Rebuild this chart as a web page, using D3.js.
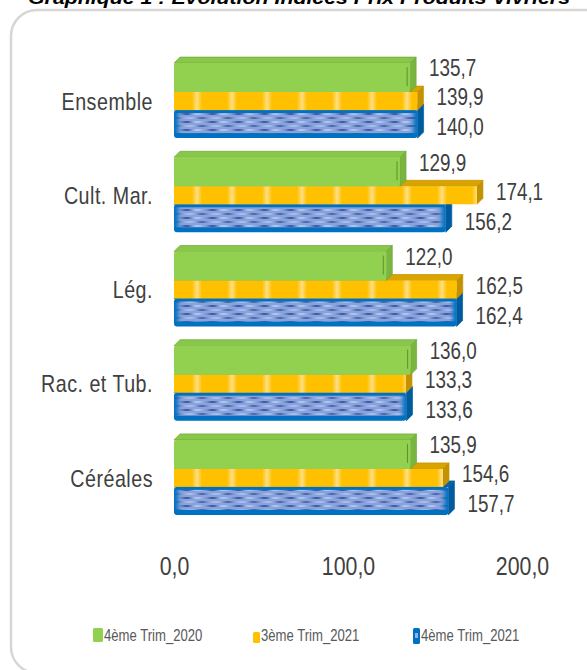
<!DOCTYPE html>
<html>
<head>
<meta charset="utf-8">
<script src="https://cdn.jsdelivr.net/npm/d3@7"></script>
<style>
  html, body { margin: 0; padding: 0; background: #fff; overflow: hidden; }
  text { font-family: "Liberation Sans", Arial, sans-serif; }
</style>
</head>
<body>
<script>
var w = 587
var h = 670

// data
var categories = ["Ensemble", "Cult. Mar.", "Lég.", "Rac. et Tub.", "Céréales"]
var seriesNames = ["4ème Trim_2020", "3ème Trim_2021", "4ème Trim_2021"]
var trim4_2020 = [135.7, 129.9, 122.0, 136.0, 135.9]
var trim3_2021 = [139.9, 174.1, 162.5, 133.3, 154.6]
var trim4_2021 = [140.0, 156.2, 162.4, 133.6, 157.7]
var tickValues = [0, 100, 200]
var title = "Graphique 1 : Evolution Indices Prix Produits Vivriers"

var allSeries = [trim4_2020, trim3_2021, trim4_2021]

// bar layout inside a category (offset of front face from centre, height)
var barLayout = [{off: -38, h: 29}, {off: -9, h: 18}, {off: 9, h: 28}]
var depth = 6
var squeeze = 0.82 // fake a condensed face

var fr = d3.formatLocale({decimal: ",", thousands: " ", grouping: [3], currency: ["", ""]})
var fmt = fr.format(".1f")

var x = d3.scaleLinear().domain([0, 200]).range([174, 522])
var y = d3.scaleBand().domain(categories).range([54, 525])

var svg = d3.select("body")
  .append("svg")
  .attr("width", w)
  .attr("height", h)

var defs = svg.append("defs")

// yellow: soft vertical light stripes
var yg = defs.append("linearGradient").attr("id", "ystripe")
yg.append("stop").attr("offset", "0").attr("stop-color", "#ffc000")
yg.append("stop").attr("offset", "0.36").attr("stop-color", "#ffc000")
yg.append("stop").attr("offset", "0.5").attr("stop-color", "#ffdf85")
yg.append("stop").attr("offset", "0.64").attr("stop-color", "#ffc000")
yg.append("stop").attr("offset", "1").attr("stop-color", "#ffc000")
defs.append("pattern")
  .attr("id", "ypat")
  .attr("patternUnits", "userSpaceOnUse")
  .attr("x", 179.5).attr("y", 0)
  .attr("width", 35).attr("height", 10)
  .append("rect")
  .attr("width", 35).attr("height", 10)
  .attr("fill", "url(#ystripe)")

// blue: smeared dash texture
var bp = defs.append("pattern")
  .attr("id", "bpat")
  .attr("patternUnits", "userSpaceOnUse")
  .attr("width", 26).attr("height", 8)
bp.append("rect").attr("width", 26).attr("height", 8).attr("fill", "#88a3db")
bp.append("rect").attr("x", 0).attr("y", 1).attr("width", 9).attr("height", 2).attr("fill", "#3f58a4")
bp.append("rect").attr("x", 12).attr("y", 1).attr("width", 7).attr("height", 2).attr("fill", "#b3c7ef")
bp.append("rect").attr("x", 4).attr("y", 5).attr("width", 8).attr("height", 2).attr("fill", "#a9bfec")
bp.append("rect").attr("x", 16).attr("y", 5).attr("width", 8).attr("height", 2).attr("fill", "#4a63ab")

defs.append("filter").attr("id", "soft")
  .attr("x", "-5%").attr("y", "-20%").attr("width", "110%").attr("height", "140%")
  .append("feGaussianBlur").attr("stdDeviation", "2 0.6")

// panel
svg.append("rect")
  .attr("x", 11).attr("y", 10)
  .attr("width", 600).attr("height", 663)
  .attr("rx", 26)
  .attr("fill", "#fff")
  .attr("stroke", "#d6d6d6")
  .attr("stroke-width", 2.5)

// title, cut by the top edge as in the source
svg.append("text")
  .attr("x", 299).attr("y", 4)
  .attr("text-anchor", "middle")
  .attr("font-size", 19)
  .attr("font-weight", "bold")
  .attr("font-style", "italic")
  .attr("textLength", 542)
  .attr("lengthAdjust", "spacingAndGlyphs")
  .attr("fill", "#000")
  .text(title)

var styles = [
  {front: "#92d050", top: "#88c749", side: "#79b53f", edge: "#6fa83a"},
  {front: "url(#ypat)", top: "#d9a300", side: "#c49200", edge: "#c49200"},
  {front: "#0070c0", top: "#0a63a8", side: "#005b9e", edge: "#005b9e"}
]

function cy(c) { return y(c) + y.bandwidth() / 2 }

function place(px, py) { return "translate(" + px + "," + py + ") scale(" + squeeze + ",1)" }

function drawBar(g, s, v, c) {
  var L = barLayout[s], st = styles[s]
  var x0 = x(0), x1 = x(v), y0 = cy(c) + L.off, bh = L.h, d = depth
  g.append("polygon")
    .attr("points", [[x0, y0], [x0 + d, y0 - d], [x1 + d, y0 - d], [x1, y0]].join(" "))
    .attr("fill", st.top).attr("stroke", st.edge).attr("stroke-width", 0.7)
  g.append("polygon")
    .attr("points", [[x1, y0], [x1 + d, y0 - d], [x1 + d, y0 - d + bh], [x1, y0 + bh]].join(" "))
    .attr("fill", st.side).attr("stroke", st.edge).attr("stroke-width", 0.7)
  if (s == 2) {
    g.append("rect")
      .attr("x", x0).attr("y", y0)
      .attr("width", x1 - x0).attr("height", bh)
      .attr("rx", 3)
      .attr("fill", "#0070c0")
    g.append("rect")
      .attr("x", x0 + 4).attr("y", y0 + 3)
      .attr("width", x1 - x0 - 8).attr("height", bh - 8)
      .attr("fill", "url(#bpat)")
      .attr("filter", "url(#soft)")
  } else {
    g.append("rect")
      .attr("x", x0).attr("y", y0)
      .attr("width", x1 - x0).attr("height", bh)
      .attr("rx", s == 0 ? 2 : 0)
      .attr("fill", st.front)
    if (s == 0) {
      g.append("line")
        .attr("x1", x1 - 3).attr("x2", x1 - 3)
        .attr("y1", y0 + 4).attr("y2", y0 + bh - 6)
        .attr("stroke", "#5f8f33").attr("stroke-width", 1)
    }
  }
}

// draw back to front: blue, yellow, green
var bars = svg.append("g")
for (var s = 2; s >= 0; s--) {
  categories.forEach(function(c, i) {
    drawBar(bars.append("g").attr("class", "bar s" + s), s, allSeries[s][i], c)
  })
}

// value labels
var labelDy = [-33, -4, 26]
allSeries.forEach(function(vals, s) {
  svg.selectAll(".lab" + s)
    .data(vals)
    .enter().append("text")
    .attr("class", "lab" + s)
    .attr("transform", function(d, i) { return place(x(d) + depth + 13, cy(categories[i]) + labelDy[s]) })
    .attr("dy", "0.36em")
    .attr("font-size", 23)
    .attr("fill", "#404040")
    .text(function(d) { return fmt(d) })
})

// category axis labels
svg.selectAll(".cat")
  .data(categories)
  .enter().append("text")
  .attr("class", "cat")
  .attr("transform", function(d) { return place(153, cy(d)) })
  .attr("dy", "0.36em")
  .attr("text-anchor", "end")
  .attr("font-size", 24)
  .attr("letter-spacing", 0.6)
  .attr("fill", "#404040")
  .text(function(d) { return d })

// value axis
var xAxis = d3.axisBottom(x)
  .tickValues(tickValues)
  .tickFormat(fmt)
  .tickSize(0)
  .tickPadding(0)
var ax = svg.append("g")
  .attr("transform", "translate(0,556)")
  .call(xAxis)
ax.select(".domain").remove()
ax.selectAll("text")
  .attr("font-family", "Liberation Sans")
  .attr("font-size", 26)
  .attr("fill", "#404040")
  .attr("dy", "0.72em")
  .attr("transform", "scale(" + squeeze + ",1)")

// legend
var legendColors = ["#92d050", "#ffc000", "#0070c0"]
var markers = [{w: 10, h: 14, dy: 0}, {w: 7, h: 11, dy: 4}, {w: 7, h: 16, dy: 0}]
var leg = svg.selectAll(".leg")
  .data(seriesNames)
  .enter().append("g")
  .attr("class", "leg")
  .attr("transform", function(d, i) { return "translate(" + (93 + i * 160) + ",628)" })
leg.append("rect")
  .attr("y", function(d, i) { return markers[i].dy })
  .attr("width", function(d, i) { return markers[i].w })
  .attr("height", function(d, i) { return markers[i].h })
  .attr("rx", 1.5)
  .attr("fill", function(d, i) { return legendColors[i] })
leg.filter(function(d, i) { return i == 2 })
  .append("rect")
  .attr("x", 2).attr("y", 5).attr("width", 3).attr("height", 5)
  .attr("fill", "#93b2e2")
leg.append("text")
  .attr("transform", function(d, i) { return place(markers[i].w + 1, 13) })
  .attr("font-size", 16)
  .attr("fill", "#595959")
  .text(function(d) { return d })
</script>
</body>
</html>
